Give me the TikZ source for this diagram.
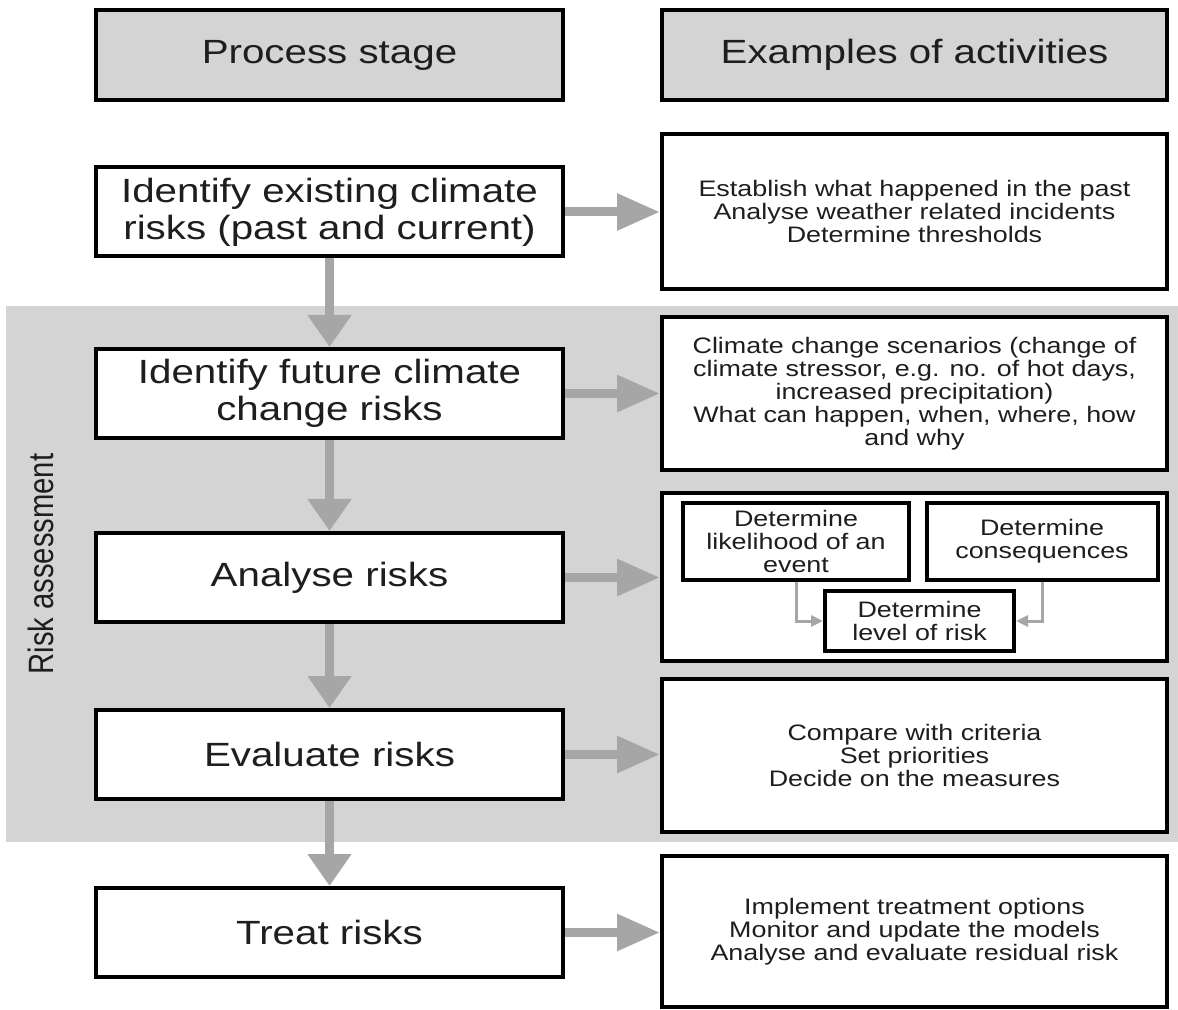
\documentclass[tikz,border=0pt]{standalone}
\usepackage{fontspec}
\setmainfont{Liberation Sans}[FakeStretch=1.2]
\newfontfamily\rotsans{Liberation Sans}[FakeStretch=0.83]
\usepackage{tikz}
\usetikzlibrary{arrows.meta,positioning,calc}
\definecolor{bandgray}{HTML}{D4D4D4}
\definecolor{arrowgray}{HTML}{A6A6A6}
\definecolor{inkgray}{HTML}{1E1E1E}

\begin{document}
\begin{tikzpicture}[x=0.5pt, y=-0.5pt,
  every node/.style={text=inkgray},
  head/.style={draw=black, line width=2pt, fill=bandgray, minimum height=45pt, font=\fontsize{16.8}{18.5}\selectfont},
  stage/.style={draw=black, line width=2pt, fill=white, align=center, minimum width=233.5pt, minimum height=44.5pt, font=\fontsize{16.8}{18.5}\selectfont},
  act/.style={draw=black, line width=2pt, fill=white, align=center, minimum width=252.5pt, font=\fontsize{11.2}{11.5}\selectfont},
  sub/.style={draw=black, line width=2pt, fill=white, align=center, minimum height=38.5pt, font=\fontsize{11.2}{11.5}\selectfont, inner sep=1pt},
  down/.style={draw=arrowgray, line width=4.5pt, -{Triangle[length=16pt, width=21pt]}},
  across/.style={draw=arrowgray, line width=4.5pt, -{Triangle[length=21.5pt, width=17.5pt]}},
  small/.style={draw=arrowgray, line width=1.5pt, -{Triangle[length=6pt, width=5.5pt]}}]
\useasboundingbox (0,0) rectangle (1178,1010);
% shaded risk assessment band
\fill[bandgray] (6,306) rectangle (1178,842);
\node[rotate=90, font=\rotsans\fontsize{17.6}{20}\selectfont] (riskass) at (41,564) {Risk assessment};

% column headings
\node[head, minimum width=233.5pt] (hdstage) at (329.5,55) {Process stage};
\node[head, minimum width=252.5pt] (hdact) at (914.5,55) {Examples of activities};

% process stages
\node[stage] (existing) at (329.5,212) {Identify existing climate\\risks (past and current)};
\node[stage] (future) at (329.5,393.5) {Identify future climate\\change risks};
\node[stage] (analyse) at (329.5,577.5) {Analyse risks};
\node[stage] (evaluate) at (329.5,754.5) {Evaluate risks};
\node[stage] (treat) at (329.5,932.5) {Treat risks};

% activities
\node[act, minimum height=77.5pt] (actexist) at (914.5,211.5) {Establish what happened in the past\\Analyse weather related incidents\\Determine thresholds};
\node[act, minimum height=76.5pt] (actfuture) at (914.5,393.5) {Climate change scenarios (change of\\climate stressor, e.g. no. of hot days,\\increased precipitation)\\What can happen, when, where, how\\and why};
\node[act, minimum height=84pt] (actanalyse) at (914.5,577) {};
\node[act, minimum height=76.5pt] (actevaluate) at (914.5,755.5) {Compare with criteria\\Set priorities\\Decide on the measures};
\node[act, minimum height=75.5pt] (acttreat) at (914.5,931.5) {Implement treatment options\\Monitor and update the models\\Analyse and evaluate residual risk};

% analysis sub-steps
\node[sub, minimum width=113pt] (likely) at (796,541) {Determine\\likelihood of an\\event};
\node[sub, minimum width=115.5pt] (conseq) at (1042,541) {Determine\\consequences};
\node[sub, minimum width=94.5pt, minimum height=30pt] (level) at (919.5,621) {Determine\\level of risk};
\draw[small] (likely.south) |- (level.west);
\draw[small] (conseq.south) |- (level.east);

% flow between stages
\draw[down] (existing) -- (future);
\draw[down] (future) -- (analyse);
\draw[down] (analyse) -- (evaluate);
\draw[down] (evaluate) -- (treat);

% links to activities
\draw[across] (existing.east) -- (existing.east -| actexist.west);
\draw[across] (future.east) -- (future.east -| actfuture.west);
\draw[across] (analyse.east) -- (analyse.east -| actanalyse.west);
\draw[across] (evaluate.east) -- (evaluate.east -| actevaluate.west);
\draw[across] (treat.east) -- (treat.east -| acttreat.west);
\end{tikzpicture}
\end{document}
